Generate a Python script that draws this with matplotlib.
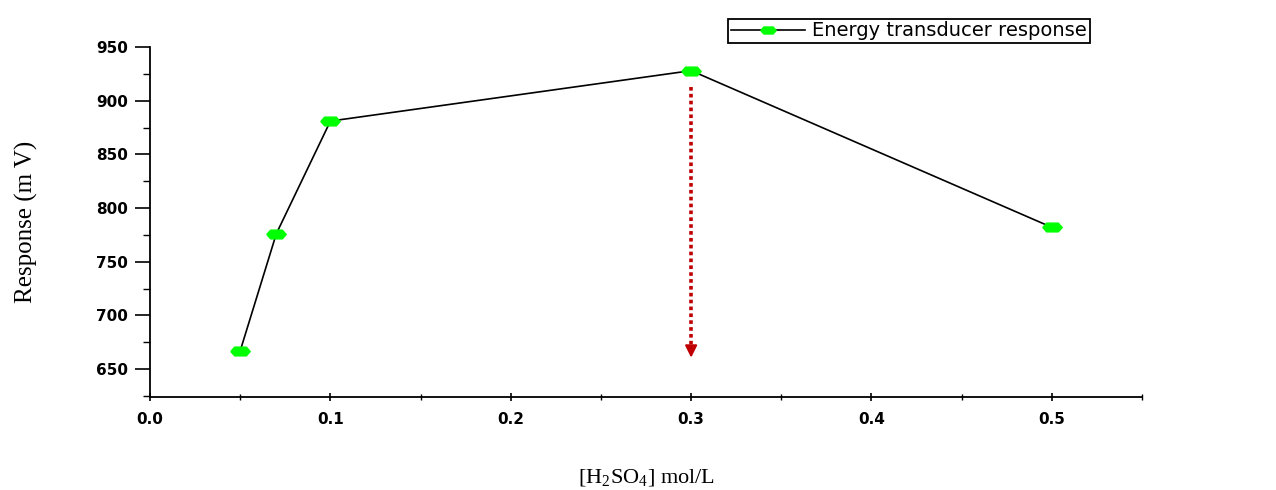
import matplotlib.pyplot as plt
from matplotlib.ticker import MultipleLocator

conc = [0.05, 0.07, 0.1, 0.3, 0.5]
response = [667, 776, 881, 928, 782]
series_label = "Energy transducer response"
arrow_x = 0.3
arrow_from = 913
arrow_to = 658

plt.rcParams['mathtext.fontset'] = 'custom'
plt.rcParams['mathtext.rm'] = 'Liberation Serif'

# flattened hexagon, like the blobs in the original
blob = [(-1, 0), (-0.6, 0.45), (0.6, 0.45), (1, 0), (0.6, -0.45), (-0.6, -0.45), (-1, 0)]

fig = plt.figure(figsize=(12.76, 4.9), dpi=100)
ax = fig.add_axes([0.1176, 0.19, 0.7774, 0.714])

ax.plot(conc, response, color='black', lw=1.2, marker=blob,
        markersize=14, markerfacecolor='#00ff00', markeredgecolor='#00ff00',
        label=series_label)

# dotted shaft, then a solid head
ax.plot([arrow_x, arrow_x], [arrow_from, arrow_to + 8], color='#c00000',
        lw=2.6, linestyle=(0, (1, 0.9)))
ax.annotate('', xy=(arrow_x, arrow_to), xytext=(arrow_x, arrow_to + 12),
            arrowprops=dict(arrowstyle='-|>', color='#c00000', lw=1.5,
                            mutation_scale=18))

ax.set_xlim(0, 0.55)
ax.set_ylim(624, 950)
ax.xaxis.set_major_locator(MultipleLocator(0.1))
ax.xaxis.set_minor_locator(MultipleLocator(0.05))
ax.yaxis.set_minor_locator(MultipleLocator(25))
ax.set_yticks(range(650, 951, 50))

for side in ['top', 'right']:
    ax.spines[side].set_visible(False)
ax.spines['left'].set_linewidth(1.3)
ax.spines['bottom'].set_linewidth(1.3)
ax.tick_params(axis='y', which='major', direction='out', length=11, width=1.2, pad=5)
ax.tick_params(axis='y', which='minor', direction='out', length=5, width=1.0)
ax.tick_params(axis='x', which='major', direction='inout', length=6, width=1.2, pad=8)
ax.tick_params(axis='x', which='minor', direction='inout', length=5, width=1.0)

ax.xaxis.set_major_formatter(plt.FuncFormatter(lambda v, p: f"{v:.1f}"))
for lbl in ax.get_xticklabels() + ax.get_yticklabels():
    lbl.set_fontfamily('DejaVu Sans')
    lbl.set_fontweight('heavy')
    lbl.set_fontsize(11)

ax.set_ylabel('Response (m V)', fontfamily='Liberation Serif', fontsize=18,
              labelpad=42)
ax.set_xlabel(r'[H$_2$SO$_4$] mol/L', fontfamily='Liberation Serif',
              fontsize=16, labelpad=29)

leg = fig.legend(loc='upper left', bbox_to_anchor=(0.5627, 0.982),
                 fancybox=False, edgecolor='black', framealpha=1,
                 prop={'family': 'DejaVu Sans', 'size': 14},
                 handlelength=3.8, borderpad=0.15, handletextpad=0.4,
                 markerscale=0.8)
leg.get_frame().set_linewidth(1.3)

fig.savefig('out.png', dpi=100)
